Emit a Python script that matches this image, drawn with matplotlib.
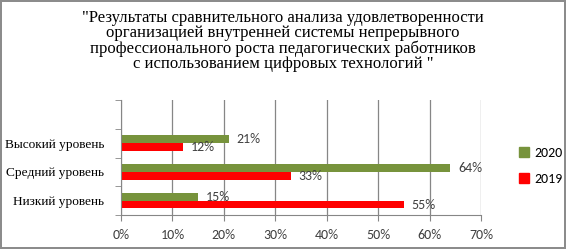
import numpy as np
import matplotlib

matplotlib.use("Agg")
import matplotlib.pyplot as plt
from matplotlib.patches import Patch

categories = ["Низкий уровень", "Средний уровень", "Высокий уровень"]
vals_2020 = [15, 64, 21]
vals_2019 = [55, 33, 12]
years = ["2020", "2019"]
title = ('"Результаты сравнительного анализа удовлетворенности\n'
         'организацией внутренней системы непрерывного\n'
         'профессионального роста педагогических работников\n'
         'с использованием цифровых технологий "')

green = "#77933C"
red = "#FF0000"
grid = "#868686"
sans = ["Carlito", "DejaVu Sans"]
serif = ["Liberation Serif", "DejaVu Serif"]

fig = plt.figure(figsize=[5.66, 2.49], dpi=100)
fig.patch.set_edgecolor("#8c8c8c")
fig.patch.set_linewidth(1.5)
ax = fig.add_axes([0.2138, 0.1365, 0.85 - 0.2138, 0.598 - 0.1365])

y = np.arange(len(categories))
h = 0.27
off = 0.135
ax.barh(y + off, vals_2020, height=h, color=green)
ax.barh(y - off, vals_2019, height=h, color=red)

for yi, v in zip(y, vals_2020):
    ax.text(v + 1.5, yi + off, f"{v}%", va="center", ha="left",
            fontsize=10, family=sans, color="#404040")
for yi, v in zip(y, vals_2019):
    ax.text(v + 1.5, yi - off, f"{v}%", va="center", ha="left",
            fontsize=10, family=sans, color="#404040")

ax.set_xlim(0, 70)
ax.set_ylim(-0.5, 3.5)
ax.set_xticks(np.arange(0, 71, 10))
ax.set_xticklabels([f"{t}%" for t in range(0, 71, 10)], family=sans,
                   fontsize=10, color="#404040")
ax.set_yticks(y)
ax.set_yticklabels(categories, family=serif, fontsize=9.6)
ax.set_yticks(np.arange(-0.5, 3.6, 1), minor=True)
ax.tick_params(axis="y", which="major", length=0, pad=12)
ax.tick_params(axis="y", which="minor", length=4, color=grid)
ax.tick_params(axis="x", length=4, color=grid, pad=6)
ax.xaxis.grid(True, color=grid, linewidth=0.9)
ax.set_axisbelow(True)
for s in ["top", "right"]:
    ax.spines[s].set_visible(False)
for s in ["left", "bottom"]:
    ax.spines[s].set_color(grid)

handles = [Patch(color=green), Patch(color=red)]
fig.legend(handles, years, loc="center left", bbox_to_anchor=(0.895, 0.333),
           frameon=False, prop={"family": sans, "size": 10},
           handlelength=0.7, handleheight=0.7, handletextpad=0.4,
           labelspacing=1.0)

fig.text(0.5, 0.835, title, ha="center", va="center", family=serif,
         fontsize=12, linespacing=0.93)

fig.savefig("out.png", dpi=100)
